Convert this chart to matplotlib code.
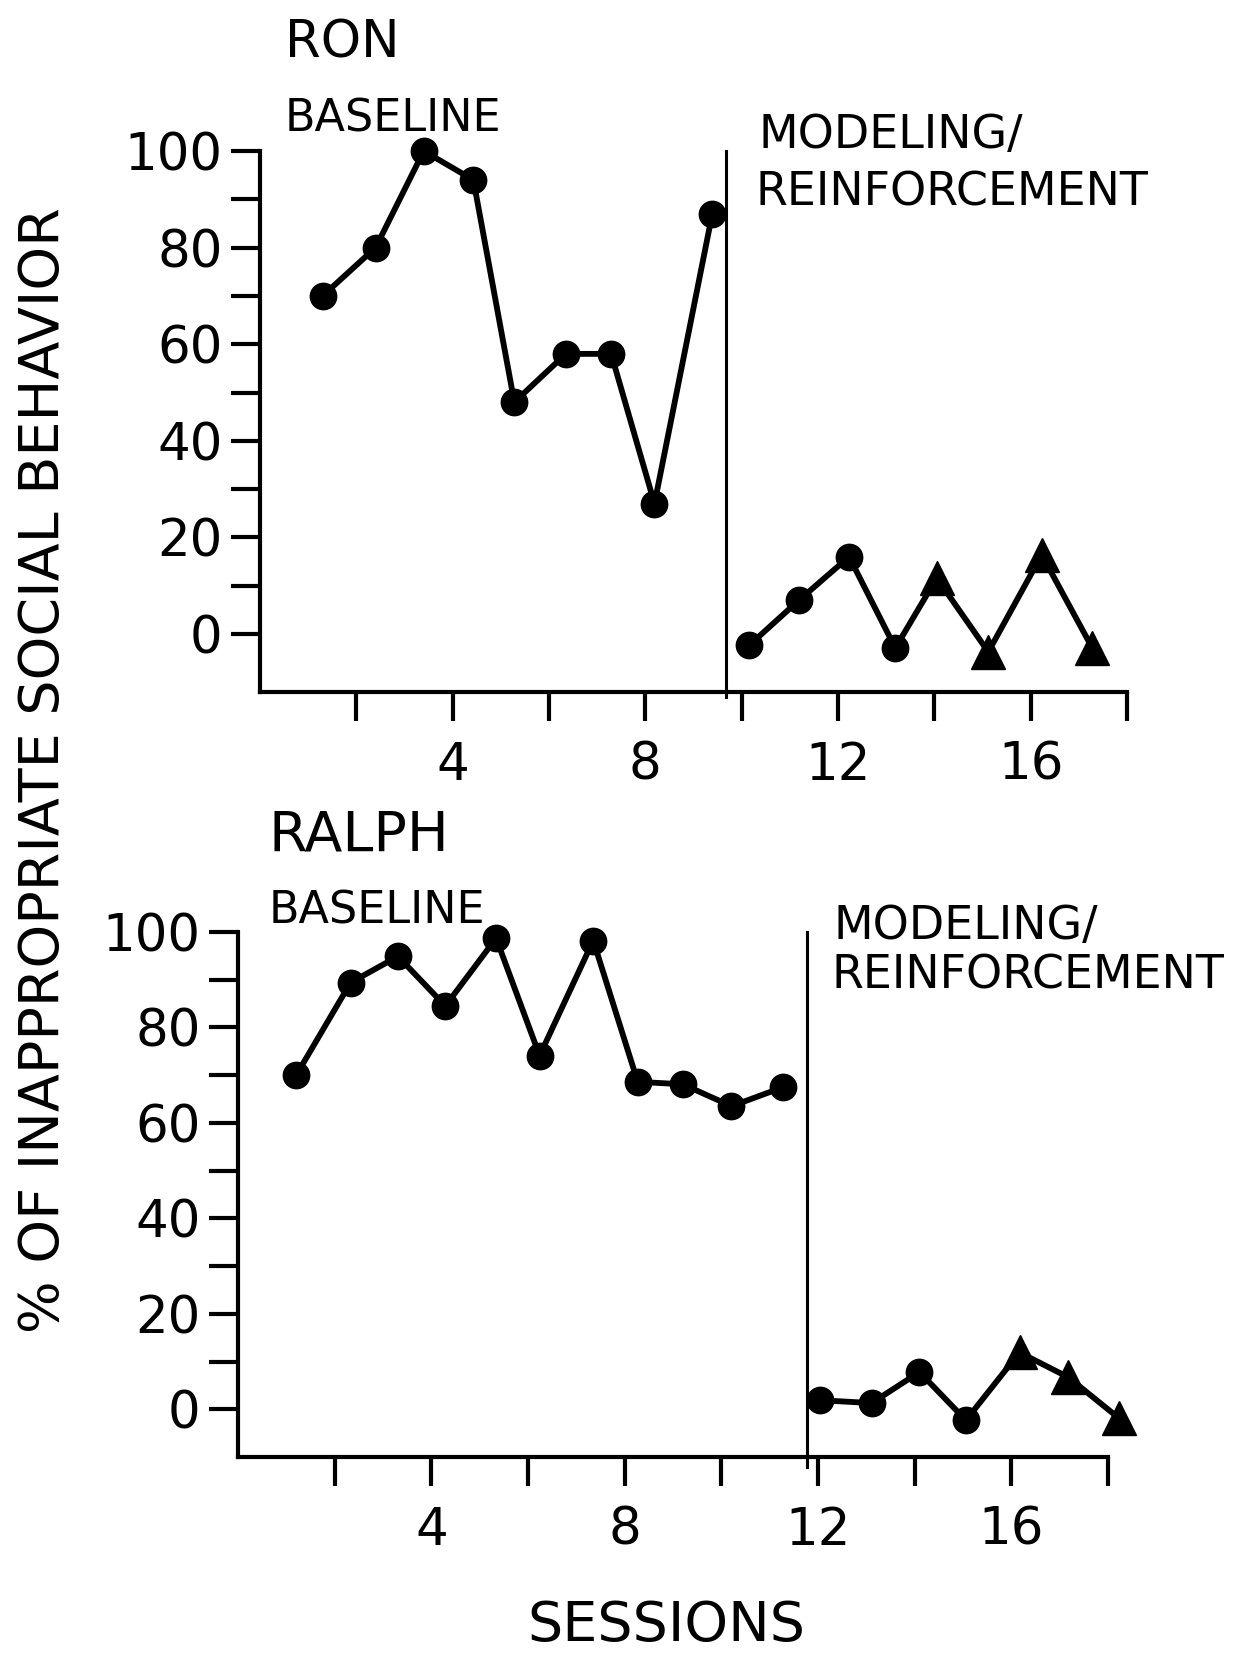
import matplotlib
matplotlib.use("Agg")
import matplotlib.pyplot as plt

W, H = 1237, 1655

# Ron: baseline (circles), then modeling/reinforcement
ron_base_x = [1.30, 2.40, 3.40, 4.43, 5.28, 6.35, 7.29, 8.19, 9.39]
ron_base_y = [70, 80, 100, 94, 48, 58, 58, 27, 87]
ron_mod_x = [10.16, 11.19, 12.23, 13.19, 14.05, 15.12, 16.23, 17.28]
ron_mod_y = [-2.3, 7, 16, -2.9, 11.6, -3.7, 16.4, -2.9]
ron_mod_mk = ['o', 'o', 'o', 'o', '^', '^', '^', '^']
ron_phase = 9.67

# Ralph
ralph_base_x = [1.21, 2.33, 3.31, 4.29, 5.34, 6.24, 7.35, 8.27, 9.20, 10.21, 11.28]
ralph_base_y = [70.1, 89.4, 94.9, 84.5, 98.7, 74.1, 98.2, 68.6, 68.1, 63.5, 67.5]
ralph_mod_x = [12.04, 13.11, 14.10, 15.06, 16.17, 17.18, 18.23]
ralph_mod_y = [1.9, 1.3, 7.8, -2.3, 11.9, 6.7, -1.9]
ralph_mod_mk = ['o', 'o', 'o', 'o', '^', '^', '^']
ralph_phase = 11.78

x_ticks = list(range(2, 19, 2))
x_labels = ['', '4', '', '8', '', '12', '', '16', '']
y_ticks = list(range(0, 101, 10))
y_labels = [str(v) if v % 20 == 0 else '' for v in y_ticks]

FONT = 'DejaVu Sans'
LW = 4.2


def fx(px):
    return px / W


def fy(py):
    return 1 - py / H


def panel(rect, ylo, bx, by, mx, my, mks, phase, ph_lo, lab_size):
    ax = fig.add_axes(rect)
    ax.set_xlim(0, 18)
    ax.set_ylim(ylo, 100)
    for s in ['top', 'right']:
        ax.spines[s].set_visible(False)
    for s in ['left', 'bottom']:
        ax.spines[s].set_linewidth(3)
    ax.set_xticks(x_ticks)
    ax.set_xticklabels(x_labels, fontsize=lab_size, family=FONT)
    ax.set_yticks(y_ticks)
    ax.set_yticklabels(y_labels, fontsize=lab_size, family=FONT)
    ax.tick_params(axis='x', length=21, width=3, pad=14)
    ax.tick_params(axis='y', length=21, width=3, pad=6)
    ax.patch.set_alpha(0)

    ax.plot(bx, by, '-', color='k', lw=LW, clip_on=False)
    ax.plot(bx, by, 'o', color='k', ms=19, clip_on=False)
    ax.plot(mx, my, '-', color='k', lw=LW, clip_on=False)
    for x, y, m in zip(mx, my, mks):
        ax.plot([x], [y], m, color='k', ms=19 if m == 'o' else 24, clip_on=False)
    ax.plot([phase, phase], [ph_lo, 100], '-', color='k', lw=2.2, clip_on=False)
    return ax


fig = plt.figure(figsize=(W / 100, H / 100), dpi=100)

top = panel([fx(260), fy(692), fx(1127) - fx(260), (692 - 151) / H], -12,
            ron_base_x, ron_base_y, ron_mod_x, ron_mod_y, ron_mod_mk,
            ron_phase, -13, 37)
bot = panel([fx(238), fy(1457), fx(1108) - fx(238), (1457 - 932) / H], -10,
            ralph_base_x, ralph_base_y, ralph_mod_x, ralph_mod_y, ralph_mod_mk,
            ralph_phase, -12, 37)

# titles and phase labels
fig.text(fx(285), fy(58), 'RON', fontsize=37, family=FONT, va='baseline')
fig.text(fx(285), fy(132), 'BASELINE', fontsize=32, family=FONT, va='baseline')
fig.text(fx(758), fy(148), 'MODELING/', fontsize=33, family=FONT, va='baseline')
fig.text(fx(755), fy(206), 'REINFORCEMENT', fontsize=33, family=FONT, va='baseline')

fig.text(fx(269), fy(850), 'RALPH', fontsize=40, family=FONT, va='baseline')
fig.text(fx(269), fy(924), 'BASELINE', fontsize=32, family=FONT, va='baseline')
fig.text(fx(834), fy(939), 'MODELING/', fontsize=33, family=FONT, va='baseline')
fig.text(fx(831), fy(989), 'REINFORCEMENT', fontsize=33, family=FONT, va='baseline')

fig.text(fx(44), fy(770), '% OF INAPPROPRIATE SOCIAL BEHAVIOR', fontsize=40,
         family=FONT, rotation=90, ha='center', va='center')
fig.text(fx(666), fy(1653), 'SESSIONS', fontsize=40, family=FONT,
         ha='center', va='bottom')

fig.savefig('out.png', dpi=100)
